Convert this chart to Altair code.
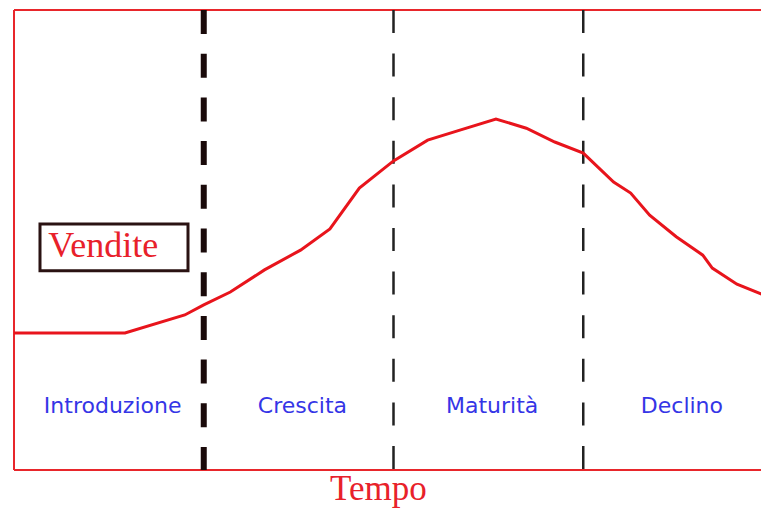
import altair as alt
import pandas as pd

# Sales curve (time in phase units 0..4, sales 0..100)
tempo = [0, 0.585, 0.90, 1.00, 1.14, 1.32, 1.51, 1.665, 1.82, 2.00, 2.18, 2.35,
         2.54, 2.70, 2.85, 3.00, 3.16, 3.25, 3.35, 3.49, 3.63, 3.68, 3.81, 3.98, 4.0]
vendite = [29.8, 29.8, 33.7, 35.9, 38.7, 43.5, 47.8, 52.4, 61.3, 67.2, 71.7, 73.9,
           76.3, 74.3, 71.3, 68.9, 62.6, 60.2, 55.4, 50.7, 46.7, 43.9, 40.4, 37.6, 37.3]

# Phase boundaries and labels
confini = [1, 2, 3]
fasi = ["Introduzione", "Crescita", "Maturità", "Declino"]
fasi_x = [0.52, 1.52, 2.52, 3.52]
fasi_y = [14, 14, 14, 14]

# Legend box "Vendite"
box_x = [0.137]
box_x2 = [0.917]
box_y = [53.5]
box_y2 = [43.3]

# visible part of the time axis (frame continues past the right edge)
X_MAX = 4 * 747 / 759
W, H = 747, 460
xs = alt.Scale(domain=[0, X_MAX], nice=False, zero=False)
ys = alt.Scale(domain=[0, 100], nice=False, zero=False)

curve_df = pd.DataFrame({"t": tempo, "v": vendite})
rules_df = pd.DataFrame({"t": confini, "top": [100] * 3, "bot": [0] * 3})
labels_df = pd.DataFrame({"t": fasi_x, "v": fasi_y, "label": fasi})
box_df = pd.DataFrame({"x": box_x, "x2": box_x2, "y": box_y, "y2": box_y2})
vend_df = pd.DataFrame({"t": [0.18], "v": [46.3], "label": ["Vendite"]})
tempo_df = pd.DataFrame({"t": [1.92], "v": [-6.6], "label": ["Tempo"]})
hframe_df = pd.DataFrame({"y": [0, 100], "x": [0, 0], "x2": [X_MAX, X_MAX]})
vframe_df = pd.DataFrame({"x": [0], "y": [0], "y2": [100]})

FRAME = "#e8262b"

frame_h = alt.Chart(hframe_df).mark_rule(color=FRAME, strokeWidth=2).encode(
    x=alt.X("x:Q", scale=xs, axis=None), x2="x2:Q",
    y=alt.Y("y:Q", scale=ys, axis=None),
)
frame_v = alt.Chart(vframe_df).mark_rule(color=FRAME, strokeWidth=2).encode(
    x=alt.X("x:Q", scale=xs, axis=None),
    y=alt.Y("y:Q", scale=ys, axis=None), y2="y2:Q",
)

thick = alt.Chart(rules_df[rules_df.t == 1]).mark_rule(
    color="#1a0a0a", strokeWidth=6, strokeDash=[24, 19.7]
).encode(
    x=alt.X("t:Q", scale=xs, axis=None),
    y=alt.Y("top:Q", scale=ys, axis=None),
    y2="bot:Q",
)
thin = alt.Chart(rules_df[rules_df.t != 1]).mark_rule(
    color="#222222", strokeWidth=2.5, strokeDash=[23, 20.6]
).encode(
    x=alt.X("t:Q", scale=xs, axis=None),
    y=alt.Y("top:Q", scale=ys, axis=None),
    y2="bot:Q",
)

line = alt.Chart(curve_df).mark_line(color="#e8141c", strokeWidth=3, clip=True).encode(
    x=alt.X("t:Q", scale=xs, axis=None),
    y=alt.Y("v:Q", scale=ys, axis=None),
)

labels = alt.Chart(labels_df).mark_text(
    font="DejaVu Sans", fontSize=22, color="#3535e6", align="center", baseline="middle"
).encode(
    x=alt.X("t:Q", scale=xs, axis=None),
    y=alt.Y("v:Q", scale=ys, axis=None),
    text="label:N",
)

box = alt.Chart(box_df).mark_rect(fill="white", stroke="#2a1212", strokeWidth=3).encode(
    x=alt.X("x:Q", scale=xs, axis=None),
    x2="x2:Q",
    y=alt.Y("y:Q", scale=ys, axis=None),
    y2="y2:Q",
)

vend_text = alt.Chart(vend_df).mark_text(
    font="Liberation Serif", fontSize=36, color="#e8212a", align="left", baseline="alphabetic"
).encode(
    x=alt.X("t:Q", scale=xs, axis=None),
    y=alt.Y("v:Q", scale=ys, axis=None),
    text="label:N",
)

tempo_text = alt.Chart(tempo_df).mark_text(
    font="Liberation Serif", fontSize=35, color="#e8212a", align="center", baseline="alphabetic",
).encode(
    x=alt.X("t:Q", scale=xs, axis=None),
    y=alt.Y("v:Q", scale=ys, axis=None),
    text="label:N",
)

chart = alt.layer(frame_h, frame_v, thick, thin, line, labels, box, vend_text, tempo_text).properties(
    width=W, height=H,
    padding={"left": 6, "top": 2, "right": 0, "bottom": 39},
    autosize=alt.AutoSizeParams(type="none"),
    background="white",
).configure_view(stroke=None)

chart.save("out.html", embed_options={"renderer": "svg", "actions": False})
